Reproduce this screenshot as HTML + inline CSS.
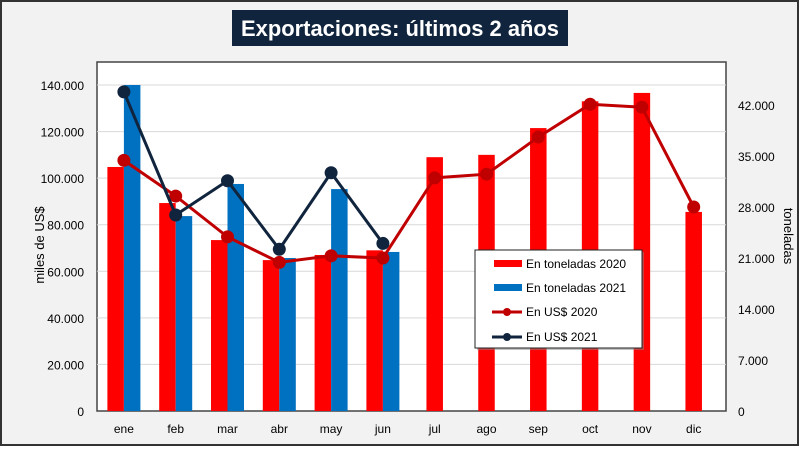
<!DOCTYPE html>
<html><head><meta charset="utf-8"><style>
body{margin:0;width:800px;height:447px;overflow:hidden;background:#fff;font-family:"Liberation Sans",sans-serif}
</style></head><body>
<svg id="c" width="800" height="447" font-family="Liberation Sans, sans-serif">
<rect x="1" y="1" width="797" height="444" fill="#f2f2f2" stroke="#333" stroke-width="2"/>
<rect x="232" y="10" width="336" height="36" fill="#10243e"/>
<text x="400" y="36" text-anchor="middle" font-size="22" font-weight="bold" fill="#fff" textLength="318" lengthAdjust="spacingAndGlyphs">Exportaciones: últimos 2 años</text>
<rect x="97" y="62" width="629" height="349" fill="#fff" stroke="#444" stroke-width="1.5"/>
<g id="grid"></g><g id="bars"></g><g id="lines"></g><g id="axes"></g>
<text transform="translate(44,245) rotate(-90)" text-anchor="middle" font-size="13" fill="#000">miles de US$</text>
<text transform="translate(784,236) rotate(90)" text-anchor="middle" font-size="13" fill="#000">toneladas</text>
<g>
<rect x="477" y="252" width="167" height="98" fill="#888" opacity="0.5"/>
<rect x="475" y="250" width="167" height="98" fill="#fff" stroke="#222" stroke-width="1"/>
<rect x="494" y="260" width="28" height="7" fill="#ff0000"/>
<text x="526" y="268" font-size="12">En toneladas 2020</text>
<rect x="494" y="284" width="28" height="7" fill="#0070c0"/>
<text x="526" y="292" font-size="12">En toneladas 2021</text>
<line x1="492" y1="312" x2="522" y2="312" stroke="#c00000" stroke-width="3"/><circle cx="507" cy="312" r="4" fill="#c00000"/>
<text x="526" y="316" font-size="12">En US$ 2020</text>
<line x1="492" y1="337" x2="522" y2="337" stroke="#10243e" stroke-width="3"/><circle cx="507" cy="337" r="4" fill="#10243e"/>
<text x="526" y="341" font-size="12">En US$ 2021</text>
</g>
</svg>
<script>
const categories=["ene","feb","mar","abr","may","jun","jul","ago","sep","oct","nov","dic"];
const bars2020=[104800,89300,73400,64800,67000,69000,109000,110000,121500,133000,136600,85500];
const bars2021=[140000,83700,97500,65700,95300,68300];
const usd2020=[34400,29500,23900,20400,21300,21000,32000,32500,37600,42100,41700,28000];
const usd2021=[43800,26900,31600,22200,32700,23000];
const leftTicks=[0,20000,40000,60000,80000,100000,120000,140000];
const rightTicks=[0,7000,14000,21000,28000,35000,42000];
const NS="http://www.w3.org/2000/svg";
const x0=98,step=51.8,yB=411;
const xC=i=>x0+step*(i+0.5);
const yL=v=>yB-v*326/140000;
const yR=v=>yB-v*306/42000;
function f(v){if(v===0)return "0";const k=Math.floor(v/1000);return k+".000";}
function mk(t,a,p){const e=document.createElementNS(NS,t);for(const k in a)e.setAttribute(k,a[k]);document.getElementById(p).appendChild(e);return e;}
leftTicks.forEach(v=>{
 if(v>0){const g=mk("line",{x1:97,x2:726,y1:yL(v),y2:yL(v),stroke:"#d9d9d9","stroke-width":1},"grid");
 
 }
 const t=mk("text",{x:84,y:yL(v)+5,"text-anchor":"end","font-size":"12"},"axes");t.textContent=f(v);
 
 
});
rightTicks.forEach(v=>{
 const t=mk("text",{x:738,y:yR(v)+5,"font-size":"12"},"axes");t.textContent=f(v);
 
 
});
categories.forEach((c,i)=>{
 const t=mk("text",{x:xC(i),y:433,"text-anchor":"middle","font-size":"12"},"axes");t.textContent=c;
 
 
});
const bw=16.5;
bars2020.forEach((v,i)=>{
 const has=i<bars2021.length;const x=has?xC(i)-bw:xC(i)-bw/2;
 const r=mk("rect",{x:x,y:yL(v),width:bw,height:yB-yL(v),fill:"#ff0000"},"bars");
 
 
});
bars2021.forEach((v,i)=>{
 const r=mk("rect",{x:xC(i),y:yL(v),width:bw,height:yB-yL(v),fill:"#0070c0"},"bars");
 
 
});
function line(d,col,name){
 const p=mk("polyline",{points:d.map((v,i)=>xC(i)+","+yR(v)).join(" "),fill:"none",stroke:col,"stroke-width":3},"lines");
 
 
 d.forEach((v,i)=>{const c=mk("circle",{cx:xC(i),cy:yR(v),r:6.5,fill:col},"lines");
 
 });
}
line(usd2020,"#c00000","usd-2020");
line(usd2021,"#10243e","usd-2021");
</script>
</body></html>
